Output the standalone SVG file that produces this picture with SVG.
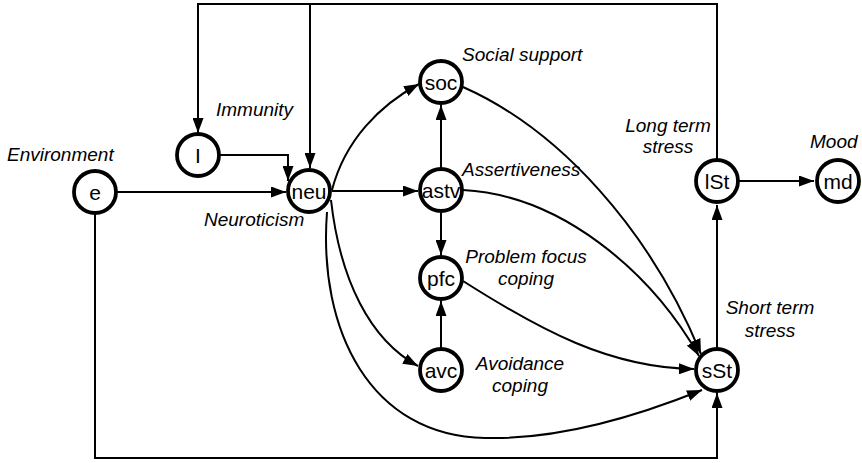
<svg xmlns="http://www.w3.org/2000/svg" width="862" height="463" viewBox="0 0 862 463">
<style>
.node circle{fill:#fff;stroke:#000;stroke-width:3.8}
.node text{font-family:"Liberation Sans",Arial,sans-serif;font-size:21px;text-anchor:middle;fill:#000}
.lbl{font-family:"Liberation Sans",Arial,sans-serif;font-size:19px;font-style:italic;fill:#000}
.mid{text-anchor:middle}
#connectors path{fill:none;stroke:#000;stroke-width:2}
.arr{marker-end:url(#ah)}
</style>
<defs>
<marker id="ah" markerUnits="userSpaceOnUse" markerWidth="15" markerHeight="11" refX="15" refY="5.5" orient="auto">
<path d="M0,0 L15,5.5 L0,11 z" fill="#000"/>
</marker>
</defs>
<rect width="862" height="463" fill="#fff"/>
<g id="connectors">
<path d="M717,159 V4 H198 V133" class="arr"/>
<path d="M310,4 V168" class="arr"/>
<path d="M219,155 H288 V181" class="arr"/>
<path d="M117,192 H286" class="arr"/>
<path d="M95,214 V458 H717 V393" class="arr"/>
<path d="M332,191 H418" class="arr"/>
<path d="M332,190 C345,140 380,105 419,84" class="arr"/>
<path d="M331,200 C340,280 370,340 418,366" class="arr"/>
<path d="M327,212 C318,330 370,436 485,438 C560,440 640,415 702,390" class="arr"/>
<path d="M441,169 V105" class="arr"/>
<path d="M441,213 V255" class="arr"/>
<path d="M441,348 V301" class="arr"/>
<path d="M463,87 C560,130 650,230 701,354" class="arr"/>
<path d="M463,190 C560,195 650,270 699,356" class="arr"/>
<path d="M463,281 C540,330 610,368 694,369" class="arr"/>
<path d="M717,348 V205" class="arr"/>
<path d="M739,181 H814" class="arr"/>
</g>
<g id="node-e" class="node"><circle cx="95" cy="192" r="21"/><text x="95" y="199.5">e</text></g>
<g id="node-I" class="node"><circle cx="198" cy="155" r="21"/><text x="198" y="162.5">I</text></g>
<g id="node-neu" class="node"><circle cx="309" cy="191" r="21"/><text x="309" y="198.5">neu</text></g>
<g id="node-soc" class="node"><circle cx="441" cy="82" r="21"/><text x="441" y="89.5">soc</text></g>
<g id="node-astv" class="node"><circle cx="441" cy="190" r="21"/><text x="441" y="197.5">astv</text></g>
<g id="node-pfc" class="node"><circle cx="441" cy="278" r="21"/><text x="441" y="285.5">pfc</text></g>
<g id="node-avc" class="node"><circle cx="441" cy="370" r="21"/><text x="441" y="377.5">avc</text></g>
<g id="node-sSt" class="node"><circle cx="717" cy="370" r="21"/><text x="717" y="377.5">sSt</text></g>
<g id="node-lSt" class="node"><circle cx="717" cy="181" r="21"/><text x="717" y="188.5">lSt</text></g>
<g id="node-md" class="node"><circle cx="838" cy="181" r="21"/><text x="838" y="188.5">md</text></g>
<g id="labels">
<text class="lbl" x="7" y="161">Environment</text>
<text class="lbl" x="216" y="116">Immunity</text>
<text class="lbl" x="204" y="226">Neuroticism</text>
<text class="lbl" x="462" y="61">Social support</text>
<text class="lbl" x="462" y="176">Assertiveness</text>
<text class="lbl mid" x="668" y="132">Long term</text>
<text class="lbl mid" x="668" y="153">stress</text>
<text class="lbl" x="810" y="148">Mood</text>
<text class="lbl mid" x="526" y="263">Problem focus</text>
<text class="lbl mid" x="526" y="285">coping</text>
<text class="lbl mid" x="770" y="314">Short term</text>
<text class="lbl mid" x="770" y="337">stress</text>
<text class="lbl mid" x="520" y="370">Avoidance</text>
<text class="lbl mid" x="520" y="392">coping</text>
</g>
</svg>
